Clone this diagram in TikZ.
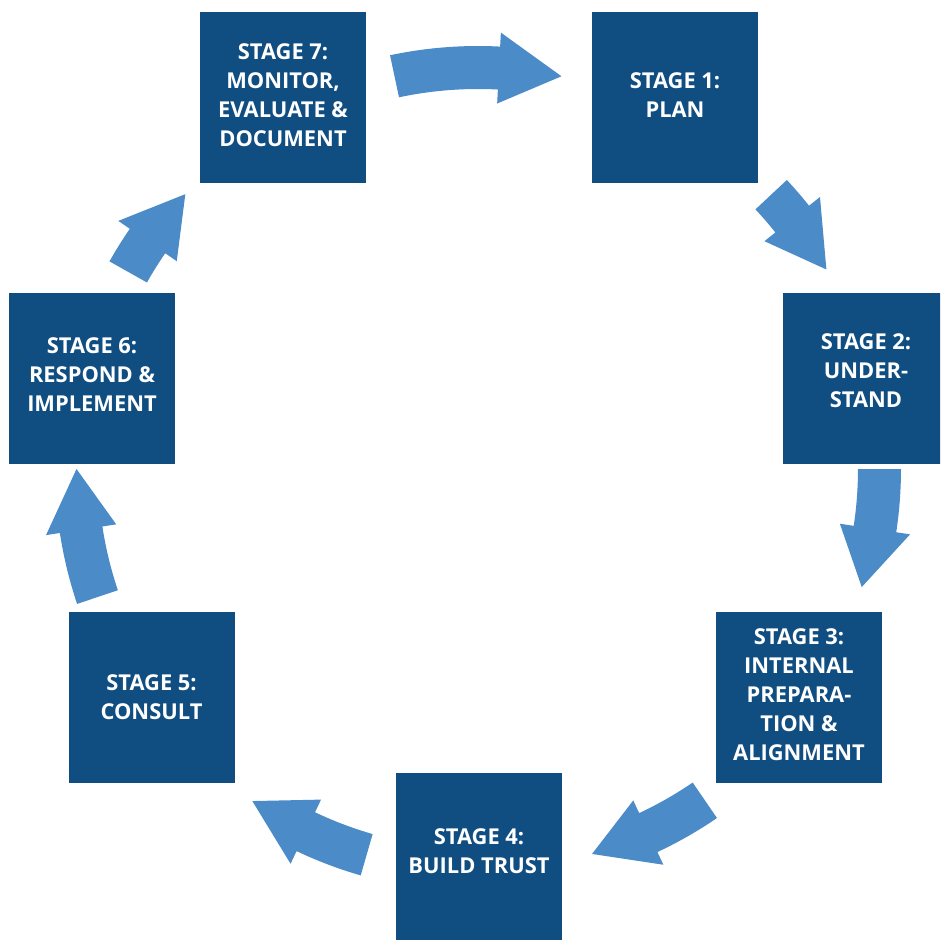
\documentclass[tikz,border=0pt]{standalone}
\usepackage{fontspec}
\setmainfont{Open Sans}
\definecolor{boxblue}{RGB}{16,78,130}
\definecolor{arrowblue}{RGB}{74,139,200}
\newcommand{\cyclearrow}[3]{%
  \fill[arrowblue] plot[domain=#1:#2, samples=16] (\x:380) -- (#2:366) -- (#3:401.5) -- (#2:437)
    -- plot[domain=#2:#1, samples=16] (\x:423) -- cycle;}
\begin{document}
\begin{tikzpicture}[x=0.75pt,y=-0.75pt,
  stagebox/.style={fill=boxblue, draw=none, minimum width=124.5pt, minimum height=128.25pt,
    inner sep=0pt},
  stagetext/.style={text=white, align=center, inner sep=0pt,
    font=\bfseries\fontsize{16.4}{21.75}\selectfont}]
\useasboundingbox (0,0) rectangle (940,940);
\clip (0,0) rectangle (940,940);
\begin{scope}[shift={(478,469)}, yscale=-1]
  \cyclearrow{102}{87}{78}
  \cyclearrow{43.1}{38.5}{29.8}
  \cyclearrow{0}{-8.6}{-17.1}
  \cyclearrow{-55.6}{-64.9}{-73.5}
  \cyclearrow{-106.1}{-115.4}{-124.2}
  \cyclearrow{198.6}{188.7}{180}
  \cyclearrow{150.6}{145.4}{136.8}
\end{scope}
\node[stagebox] (s7) at (283,97.5) {};
\node[stagetext] (t7) at (283,95) {STAGE 7:\\MONITOR,\\EVALUATE \&\\DOCUMENT};
\node[stagebox] (s1) at (675,97.5) {};
\node[stagetext] (t1) at (675,95.5) {STAGE 1:\\PLAN};
\node[stagebox] (s2) at (866,378.5) {};
\node[stagetext] (t2) at (866,371) {STAGE 2:\\UNDER-\\STAND};
\node[stagebox] (s3) at (799,697) {};
\node[stagetext] (t3) at (799,695) {STAGE 3:\\INTERNAL\\PREPARA-\\TION \&\\ALIGNMENT};
\node[stagebox] (s4) at (479,858.5) {};
\node[stagetext] (t4) at (479,851.5) {STAGE 4:\\BUILD TRUST};
\node[stagebox] (s5) at (151.5,697) {};
\node[stagetext] (t5) at (151.5,697) {STAGE 5:\\CONSULT};
\node[stagebox] (s6) at (92,378.5) {};
\node[stagetext] (t6) at (92,375) {STAGE 6:\\RESPOND \&\\IMPLEMENT};
\end{tikzpicture}
\end{document}
